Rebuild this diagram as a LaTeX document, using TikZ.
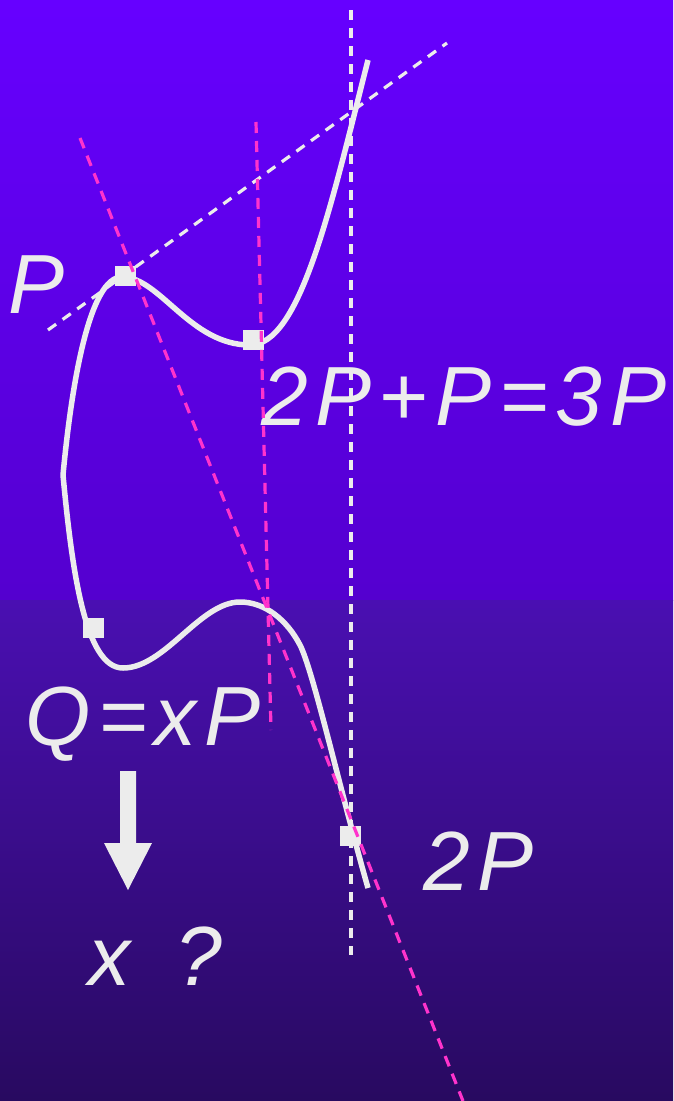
\documentclass[tikz,border=0pt]{standalone}
\usepackage{fontspec}
\setmainfont{Liberation Sans}
\definecolor{fg}{HTML}{ECECEC}
\definecolor{mag}{HTML}{FF33CC}
\definecolor{bgA}{HTML}{6600FF}
\definecolor{bgB}{HTML}{5400CF}
\definecolor{bgC}{HTML}{4A0FB2}
\definecolor{bgD}{HTML}{280A60}
\tikzset{
  pt/.style={fill=fg, draw=none, minimum width=21pt, minimum height=20pt, inner sep=0pt},
  lbl/.style={text=fg, anchor=base west, inner sep=0pt, font=\fontsize{84}{90}\selectfont\itshape\addfontfeature{LetterSpace=9}},
  curve/.style={draw=fg, line width=5.5pt},
  wdash/.style={draw=fg, line width=3.2pt, dash pattern=on 10pt off 8pt},
  mdash/.style={draw=mag, line width=3.2pt, dash pattern=on 11pt off 8pt},
}
\begin{document}
\begin{tikzpicture}[x=1pt, y=-1pt]
\useasboundingbox (0,0) rectangle (673,1101);
\shade[top color=bgA, bottom color=bgB] (0,0) rectangle (673,600);
\shade[top color=bgC, bottom color=bgD] (0,600) rectangle (673,1101);
% curve
\draw[curve] (368,60) .. controls (330,210) and (300,345) .. (250,345)
  .. controls (190,345) and (160,277) .. (122,277)
  .. controls (90,277) and (72,380) .. (63,475);
\draw[curve] (63,475) .. controls (72,570) and (85,668) .. (123,668)
  .. controls (165,668) and (200,602) .. (240,602)
  .. controls (265,602) and (287,620) .. (300,645)
  .. controls (313,670) and (340,790) .. (368,888);
% points
\node[pt] (p) at (125,276) {};
\node[pt] (p3) at (253,340) {};
\node[pt] (q) at (93,628) {};
\node[pt] (p2) at (350,836) {};
% labels
\node[lbl] (lP) at (8,313) {P};
\node[lbl] (l3P) at (261,425) {2P+P=3P};
\node[lbl] (lQ) at (25,745) {Q=xP};
\node[lbl] (l2P) at (423,890) {2P};
\node[lbl] (lx) at (88,985) {x\hspace{14pt} ?};
% arrow
\fill[fg] (120,771) -- (136,771) -- (136,843) -- (152,843) -- (128,890) -- (104,843) -- (120,843) -- cycle;
% dashed lines
\coordinate (v1) at (351,10);
\coordinate (v2) at (351,955);
\coordinate (t1) at (48,330);
\coordinate (t2) at (447,43);
\coordinate (m1) at (256,122);
\coordinate (m2) at (271,730);
\coordinate (s1) at (80,138);
\coordinate (s2) at (463,1101);
\draw[wdash] (v1) -- (v2);
\draw[wdash] (t1) -- (t2);
\draw[mdash] (m1) -- (m2);
\draw[mdash] (s1) -- (s2);
\end{tikzpicture}
\end{document}
